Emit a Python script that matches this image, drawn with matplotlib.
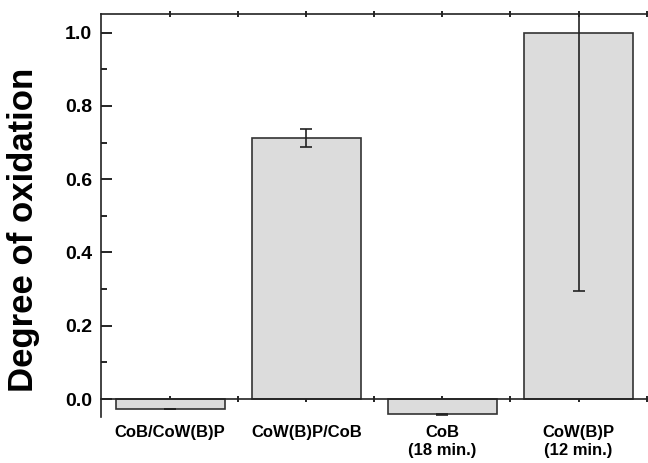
import matplotlib.pyplot as plt
import numpy as np

plt.rcParams['font.family'] = ['Liberation Sans', 'DejaVu Sans']
plt.rcParams['font.weight'] = 'bold'

labels = ['CoB/CoW(B)P', 'CoW(B)P/CoB', 'CoB\n(18 min.)', 'CoW(B)P\n(12 min.)']
values = [-0.027, 0.712, -0.042, 1.0]
errors = [0.001, 0.024, 0.001, 0.704]

fig = plt.figure(figsize=(6.48, 4.63), dpi=100)
ax = fig.add_axes([0.1554, 0.0994, 0.8446, 0.8704])

x = np.arange(1, len(values) + 1)
ax.bar(x, values, width=0.8, color='#dcdcdc', edgecolor='#333333', linewidth=1.2, zorder=2)
ax.errorbar(x, values, yerr=errors, fmt='none', ecolor='#222222', elinewidth=1.2,
            capsize=4, capthick=1.2, zorder=3)

ax.set_xlim(0.49, 4.51)
ax.set_ylim(-0.049, 1.051)

ax.spines['right'].set_visible(False)
ax.spines['bottom'].set_position(('data', 0))
for s in ['left', 'top', 'bottom']:
    ax.spines[s].set_linewidth(1.2)
    ax.spines[s].set_color('#222222')

ax.set_yticks([0.0, 0.2, 0.4, 0.6, 0.8, 1.0])
ax.set_yticks(np.arange(0.1, 1.0, 0.2), minor=True)
ax.set_yticklabels(['0.0', '0.2', '0.4', '0.6', '0.8', '1.0'], fontsize=14, fontweight='bold')
ax.tick_params(axis='y', which='major', direction='in', length=8, width=1.2, pad=6)
ax.tick_params(axis='y', which='minor', direction='in', length=4, width=1.2)

ax.set_xticks(x)
ax.set_xticks([1.5, 2.5, 3.5, 4.5], minor=True)
ax.set_xticklabels(labels, fontsize=12, fontweight='bold', linespacing=1.2)
ax.tick_params(axis='x', which='both', direction='inout', length=4, width=1.2,
               top=True, pad=17)
for t in ax.get_xticklabels():
    t.set_va('top')

fig.text(0.036, 0.503, 'Degree of oxidation', rotation=90, ha='center', va='center',
         fontsize=25, fontweight='bold')

fig.savefig('out.png', dpi=100)
